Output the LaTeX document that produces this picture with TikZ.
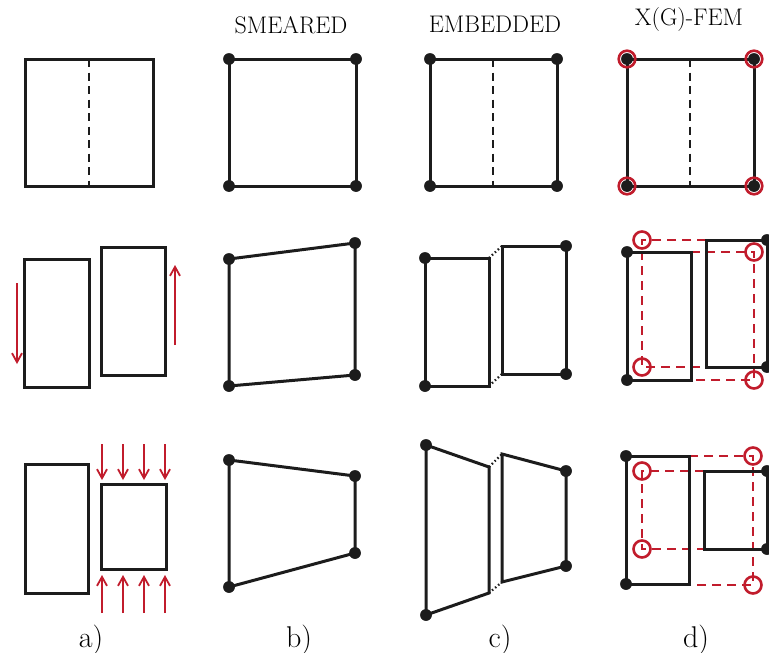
\documentclass[tikz,border=0pt]{standalone}
\usetikzlibrary{arrows.meta}
\definecolor{fred}{RGB}{193,28,44}
\definecolor{fblk}{RGB}{28,28,28}
\begin{document}
\begin{tikzpicture}[x=1pt,y=-1pt,
  blk/.style={draw=fblk,line width=3.0pt,line join=miter},
  crack/.style={draw=fblk,line width=2.7pt,dash pattern=on 8pt off 5.5pt},
  slip/.style={draw=fblk,line width=2.2pt,dash pattern=on 1.5pt off 2.5pt},
  rdash/.style={draw=fred,line width=2.7pt,dash pattern=on 9pt off 6pt},
  rcirc/.style={draw=fred,line width=2.6pt},
  load/.style={draw=fred,line width=1.8pt,-{Straight Barb[length=9pt,width=10pt,line width=1.8pt]}},
  dotn/.style={circle,fill=fblk,inner sep=0pt,minimum size=11.5pt},
  hdr/.style={font=\fontsize{24}{28}\selectfont,anchor=base,inner sep=0pt},
  lbl/.style={font=\fontsize{30}{34}\selectfont,anchor=base,inner sep=0pt}]
\useasboundingbox (0,0) rectangle (769,653);

% headings
\node[hdr] (hS) at (291,33) {SMEARED};
\node[hdr] (hE) at (495,32.5) {EMBEDDED};
\node[hdr] (hX) at (689,25) {X(G)-FEM};
\node[lbl] (la) at (91,647) {a)};
\node[lbl] (lb) at (299,647) {b)};
\node[lbl] (lc) at (500,647) {c)};
\node[lbl] (ld) at (696,647) {d)};

% ---------- column a ----------
\draw[blk] (25,59) rectangle (153,186);
\draw[crack] (89,59) -- (89,186);
\draw[blk] (24,259) rectangle (89,387);
\draw[blk] (101,247) rectangle (165,375);
\coordinate (a1s) at (17,283); \coordinate (a1e) at (17,364);
\coordinate (a2s) at (175,345); \coordinate (a2e) at (175,265);
\draw[load] (a1s) -- (a1e);
\draw[load] (a2s) -- (a2e);
\draw[blk] (25,464) rectangle (88,593);
\draw[blk] (101,484) rectangle (166,569);
\foreach \x in {102,123,144,165}{
  \draw[load] (\x,444) -- (\x,480);
  \draw[load] (\x,613) -- (\x,575);
}

% ---------- column b ----------
\node[dotn] (b11) at (229,59) {}; \node[dotn] (b12) at (356,59) {};
\node[dotn] (b13) at (356,186) {}; \node[dotn] (b14) at (229,186) {};
\draw[blk] (b11.center) -- (b12.center) -- (b13.center) -- (b14.center) -- cycle;
\node[dotn] (b21) at (229,259) {}; \node[dotn] (b22) at (355,243) {};
\node[dotn] (b23) at (355,375) {}; \node[dotn] (b24) at (229,386) {};
\draw[blk] (b21.center) -- (b22.center) -- (b23.center) -- (b24.center) -- cycle;
\node[dotn] (b31) at (229,460) {}; \node[dotn] (b32) at (355,476) {};
\node[dotn] (b33) at (355,553) {}; \node[dotn] (b34) at (229,587) {};
\draw[blk] (b31.center) -- (b32.center) -- (b33.center) -- (b34.center) -- cycle;
\foreach \n in {b11,b12,b13,b14,b21,b22,b23,b24,b31,b32,b33,b34}{\node[dotn] at (\n) {};}

% ---------- column c ----------
\node[dotn] (c11) at (430,59) {}; \node[dotn] (c12) at (557,59) {};
\node[dotn] (c13) at (557,186) {}; \node[dotn] (c14) at (430,186) {};
\draw[blk] (c11.center) -- (c12.center) -- (c13.center) -- (c14.center) -- cycle;
\draw[crack] (493,59) -- (493,186);
% row 2
\node[dotn] (c21) at (425,258) {}; \node[dotn] (c24) at (425,386) {};
\coordinate (c2p) at (489,258); \coordinate (c2q) at (489,386);
\coordinate (c2r) at (502,246); \coordinate (c2s) at (502,374);
\node[dotn] (c22) at (566,246) {}; \node[dotn] (c23) at (566,374) {};
\draw[blk] (c21.center) -- (c2p) -- (c2q) -- (c24.center) -- cycle;
\draw[blk] (c2r) -- (c22.center) -- (c23.center) -- (c2s) -- cycle;
\draw[slip] (c2p) -- (c2r);
\draw[slip] (c2q) -- (c2s);
% row 3
\node[dotn] (c31) at (426,445) {}; \node[dotn] (c34) at (426,615) {};
\coordinate (c3p) at (489,467); \coordinate (c3q) at (489,593);
\coordinate (c3r) at (502,454); \coordinate (c3s) at (502,582);
\node[dotn] (c32) at (566,471) {}; \node[dotn] (c33) at (566,566) {};
\draw[blk] (c31.center) -- (c3p) -- (c3q) -- (c34.center) -- cycle;
\draw[blk] (c3r) -- (c32.center) -- (c33.center) -- (c3s) -- cycle;
\draw[slip] (c3p) -- (c3r);
\draw[slip] (c3q) -- (c3s);
\foreach \n in {c11,c12,c13,c14,c21,c22,c23,c24,c31,c32,c33,c34}{\node[dotn] at (\n) {};}

% ---------- column d ----------
% row 1
\node[dotn] (d11) at (627,59) {}; \node[dotn] (d12) at (754,59) {};
\node[dotn] (d13) at (754,186) {}; \node[dotn] (d14) at (627,186) {};
\draw[blk] (d11.center) -- (d12.center) -- (d13.center) -- (d14.center) -- cycle;
\draw[crack] (690,59) -- (690,186);
\foreach \n in {d11,d12,d13,d14}{\draw[rcirc] (\n) circle (8.3); \node[dotn] at (\n) {};}
% row 2
\coordinate (e1) at (642,240); \coordinate (e2) at (642,367);
\coordinate (e3) at (754,252); \coordinate (e4) at (754,380);
\draw[rdash] (706,240) -- (e1) -- (e2) -- (706,367);
\draw[rdash] (691,252) -- (e3) -- (e4) -- (691,380);
\node[dotn] (d21) at (627,252) {}; \node[dotn] (d24) at (627,380) {};
\node[dotn] (d22) at (767,240) {}; \node[dotn] (d23) at (767,367) {};
\draw[blk] (d21.center) -- (691,252) -- (691,380) -- (d24.center) -- cycle;
\draw[blk] (706,240) -- (d22.center) -- (d23.center) -- (706,367) -- cycle;
\foreach \n in {e1,e2,e3,e4}{\draw[rcirc] (\n) circle (8.5);}
% row 3
\coordinate (f1) at (642,471); \coordinate (f2) at (642,549);
\coordinate (f3) at (753,456); \coordinate (f4) at (753,585);
\draw[rdash] (704,471) -- (f1) -- (f2) -- (704,549);
\draw[rdash] (689,456) -- (f3) -- (f4) -- (689,585);
\node[dotn] (d31) at (626,456) {}; \node[dotn] (d34) at (626,584) {};
\node[dotn] (d32) at (767,471) {}; \node[dotn] (d33) at (767,549) {};
\draw[blk] (d31.center) -- (689,456) -- (689,584) -- (d34.center) -- cycle;
\draw[blk] (704,471) -- (d32.center) -- (d33.center) -- (704,549) -- cycle;
\foreach \n in {f1,f2,f3,f4}{\draw[rcirc] (\n) circle (8.5);}
\foreach \n in {d21,d22,d23,d24,d31,d32,d33,d34}{\node[dotn] at (\n) {};}
\end{tikzpicture}
\end{document}
